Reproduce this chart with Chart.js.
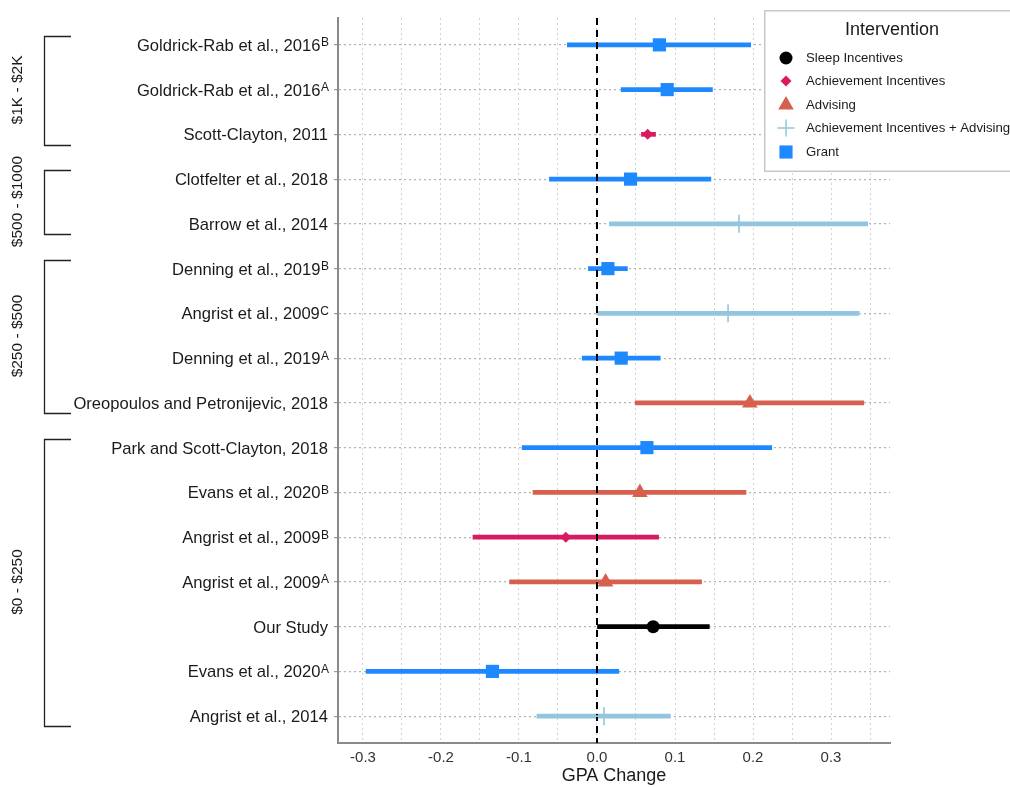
<!DOCTYPE html>
<html>
<head>
<meta charset="utf-8">
<script src="https://cdn.jsdelivr.net/npm/chart.js@4.4.0/dist/chart.umd.min.js"></script>
<style>
html,body{margin:0;padding:0;background:#ffffff;}
canvas{display:block;}
</style>
</head>
<body>
<canvas id="c" width="1010" height="787"></canvas>
<script>
// ---------- DATA ----------
const studies = ['Goldrick-Rab et al., 2016','Goldrick-Rab et al., 2016','Scott-Clayton, 2011','Clotfelter et al., 2018','Barrow et al., 2014','Denning et al., 2019','Angrist et al., 2009','Denning et al., 2019','Oreopoulos and Petronijevic, 2018','Park and Scott-Clayton, 2018','Evans et al., 2020','Angrist et al., 2009','Angrist et al., 2009','Our Study','Evans et al., 2020','Angrist et al., 2014'];
const studyMarks = ['B','A','','','','B','C','A','','','B','B','A','','A',''];
const interventions = ['Grant','Grant','Achievement Incentives','Grant','Achievement Incentives + Advising','Grant','Achievement Incentives + Advising','Grant','Advising','Grant','Advising','Achievement Incentives','Advising','Sleep Incentives','Grant','Achievement Incentives + Advising'];
const estimates = [0.080, 0.090, 0.065, 0.043, 0.182, 0.014, 0.168, 0.031, 0.196, 0.064, 0.055, -0.040, 0.011, 0.072, -0.134, 0.009];
const ciLower   = [-0.038, 0.031, 0.057, -0.061, 0.016, -0.011, 0.000, -0.019, 0.049, -0.096, -0.082, -0.159, -0.112, 0.000, -0.296, -0.077];
const ciUpper   = [0.197, 0.148, 0.075, 0.146, 0.347, 0.039, 0.336, 0.081, 0.342, 0.224, 0.191, 0.079, 0.134, 0.144, 0.028, 0.094];
const interventionTypes = ['Sleep Incentives','Achievement Incentives','Advising','Achievement Incentives + Advising','Grant'];
const costGroups = ['$1K - $2K','$500 - $1000','$250 - $500','$0 - $250'];
const costGroupFirstRow = [1, 4, 6, 10];
const costGroupLastRow  = [3, 5, 9, 16];
const xTickLabels = [-0.3, -0.2, -0.1, 0.0, 0.1, 0.2, 0.3];
const xGridValues = [-0.3, -0.25, -0.2, -0.15, -0.1, -0.05, 0.0, 0.05, 0.1, 0.15, 0.2, 0.25, 0.3, 0.35];
const referenceValue = 0;

// ---------- STYLES ----------
const FONT = "'Liberation Sans', Arial, Helvetica, sans-serif";
const typeStyle = {
  'Sleep Incentives':                  {color:'#000000', pointStyle:'circle',   radius:6.5, border:0},
  'Achievement Incentives':            {color:'#D81B60', pointStyle:'rectRot',  radius:5.5, border:0},
  'Advising':                          {color:'#D6604D', pointStyle:'triangle', radius:9,   border:0},
  'Achievement Incentives + Advising': {color:'#92C5DE', pointStyle:'cross',    radius:9,   border:1.6},
  'Grant':                             {color:'#1E88FF', pointStyle:'rect',     radius:9.3, border:0}
};
const Y_MIN = 0.4, Y_MAX = 16.6;

// ---------- DATASETS ----------
const rows = studies.map((s, i) => i + 1);
const ciDataset = {
  type: 'bar',
  indexAxis: 'y',
  data: rows.map((r, i) => ({y: r, x: [ciLower[i], ciUpper[i]]})),
  backgroundColor: interventions.map(t => typeStyle[t].color),
  borderWidth: 0,
  barThickness: 4,
  grouped: false,
  order: 3
};
const zeroDataset = {
  type: 'line',
  data: [{x: referenceValue, y: Y_MIN}, {x: referenceValue, y: Y_MAX}],
  borderColor: '#000000',
  borderWidth: 2,
  borderDash: [7, 5],
  pointRadius: 0,
  fill: false,
  order: 2
};
const pointDatasets = interventionTypes.map(t => {
  const st = typeStyle[t];
  return {
    type: 'scatter',
    label: t,
    data: rows.filter((r, i) => interventions[i] === t).map(r => ({x: estimates[r - 1], y: r})),
    pointStyle: st.pointStyle,
    pointRadius: st.radius,
    pointBackgroundColor: st.color,
    pointBorderColor: st.color,
    pointBorderWidth: st.border,
    showLine: false,
    order: 1
  };
});

// ---------- PLUGIN: row labels, cost brackets, legend ----------
const decorPlugin = {
  id: 'decor',
  afterDraw(chart) {
    const ctx = chart.ctx;
    const ys = chart.scales.y;
    ctx.save();
    // Row labels with superscripts
    const baseFont = '16.6px ' + FONT;
    const supFont = '12px ' + FONT;
    ctx.fillStyle = '#1a1a1a';
    ctx.textBaseline = 'alphabetic';
    studies.forEach((name, i) => {
      const y = ys.getPixelForValue(i + 1);
      const baseY = y + 6;
      const right = 329;
      let supW = 0;
      if (studyMarks[i]) {
        ctx.font = supFont;
        supW = ctx.measureText(studyMarks[i]).width;
        ctx.textAlign = 'right';
        ctx.fillText(studyMarks[i], right, baseY - 4.5);
      }
      ctx.font = baseFont;
      ctx.textAlign = 'right';
      ctx.fillText(name, right - supW - (supW ? 0.5 : 1), baseY);
    });
    // Cost brackets
    ctx.strokeStyle = '#222222';
    ctx.lineWidth = 1.3;
    costGroups.forEach((g, k) => {
      const top = Math.round(ys.getPixelForValue(costGroupFirstRow[k] - 0.2)) + 0.5;
      const bot = Math.round(ys.getPixelForValue(costGroupLastRow[k] + 0.23)) + 0.5;
      ctx.beginPath();
      ctx.moveTo(71, top);
      ctx.lineTo(44.5, top);
      ctx.lineTo(44.5, bot);
      ctx.lineTo(71, bot);
      ctx.stroke();
      ctx.save();
      ctx.translate(18, (top + bot) / 2 - 1);
      ctx.rotate(-Math.PI / 2);
      ctx.font = '15.5px ' + FONT;
      ctx.fillStyle = '#1a1a1a';
      ctx.textAlign = 'center';
      ctx.textBaseline = 'middle';
      ctx.fillText(g, 0, 0);
      ctx.restore();
    });
    // Legend
    const lx = 764, ly = 10, lw = 270, lh = 162;
    ctx.fillStyle = '#ffffff';
    ctx.fillRect(lx, ly, lw, lh);
    ctx.strokeStyle = '#c8c8c8';
    ctx.lineWidth = 1.5;
    ctx.strokeRect(lx + 0.75, ly + 0.75, lw, lh - 1.5);
    ctx.fillStyle = '#1a1a1a';
    ctx.font = '18px ' + FONT;
    ctx.textAlign = 'center';
    ctx.textBaseline = 'middle';
    ctx.fillText('Intervention', 892, 30);
    const legendY = [58, 81, 105, 128, 152];
    interventionTypes.forEach((t, k) => {
      const st = typeStyle[t];
      ctx.fillStyle = st.color;
      ctx.strokeStyle = st.color;
      const r = t === 'Achievement Incentives + Advising' ? 8.5 : st.radius;
      Chart.helpers.drawPoint(ctx, {pointStyle: st.pointStyle, radius: r, rotation: 0, borderWidth: st.border}, 786, legendY[k]);
      ctx.fillStyle = '#1a1a1a';
      ctx.font = '13.2px ' + FONT;
      ctx.textAlign = 'left';
      ctx.textBaseline = 'middle';
      ctx.fillText(t, 806, legendY[k] + 0.5);
    });
    ctx.restore();
  }
};

// ---------- CHART ----------
new Chart(document.getElementById('c'), {
  type: 'scatter',
  data: {datasets: [ciDataset, zeroDataset, ...pointDatasets]},
  plugins: [decorPlugin],
  options: {
    responsive: false,
    animation: false,
    events: [],
    layout: {padding: {top: 18, right: 120, bottom: 0, left: 0}},
    plugins: {legend: {display: false}, tooltip: {enabled: false}},
    scales: {
      x: {
        type: 'linear',
        min: -0.332,
        max: 0.3756,
        offset: false,
        afterBuildTicks: s => { s.ticks = xGridValues.map(v => ({value: v})); },
        afterFit: s => { s.height = 44; },
        ticks: {
          autoSkip: false,
          maxRotation: 0,
          padding: 6,
          color: '#333333',
          font: {family: FONT, size: 15},
          callback: v => xTickLabels.some(t => Math.abs(t - v) < 1e-9) ? v.toFixed(1) : ''
        },
        grid: {color: '#d2d2d2', lineWidth: 1, drawTicks: false, offset: false},
        border: {display: true, color: '#8a8a8a', width: 2, dash: [2, 3]},
        title: {display: true, text: 'GPA Change', color: '#1a1a1a', font: {family: FONT, size: 18}, padding: {top: 0, bottom: 0}}
      },
      y: {
        type: 'linear',
        reverse: true,
        min: Y_MIN,
        max: Y_MAX,
        offset: false,
        afterBuildTicks: s => { s.ticks = rows.map(v => ({value: v})); },
        afterFit: s => { s.width = 338; },
        ticks: {display: false},
        grid: {color: '#b4b4b4', lineWidth: 1.2, drawTicks: true, tickLength: 4, tickColor: '#9a9a9a', tickBorderDash: [], offset: false},
        border: {display: true, color: '#8a8a8a', width: 2, dash: [2, 3]}
      }
    }
  }
});
</script>
</body>
</html>
